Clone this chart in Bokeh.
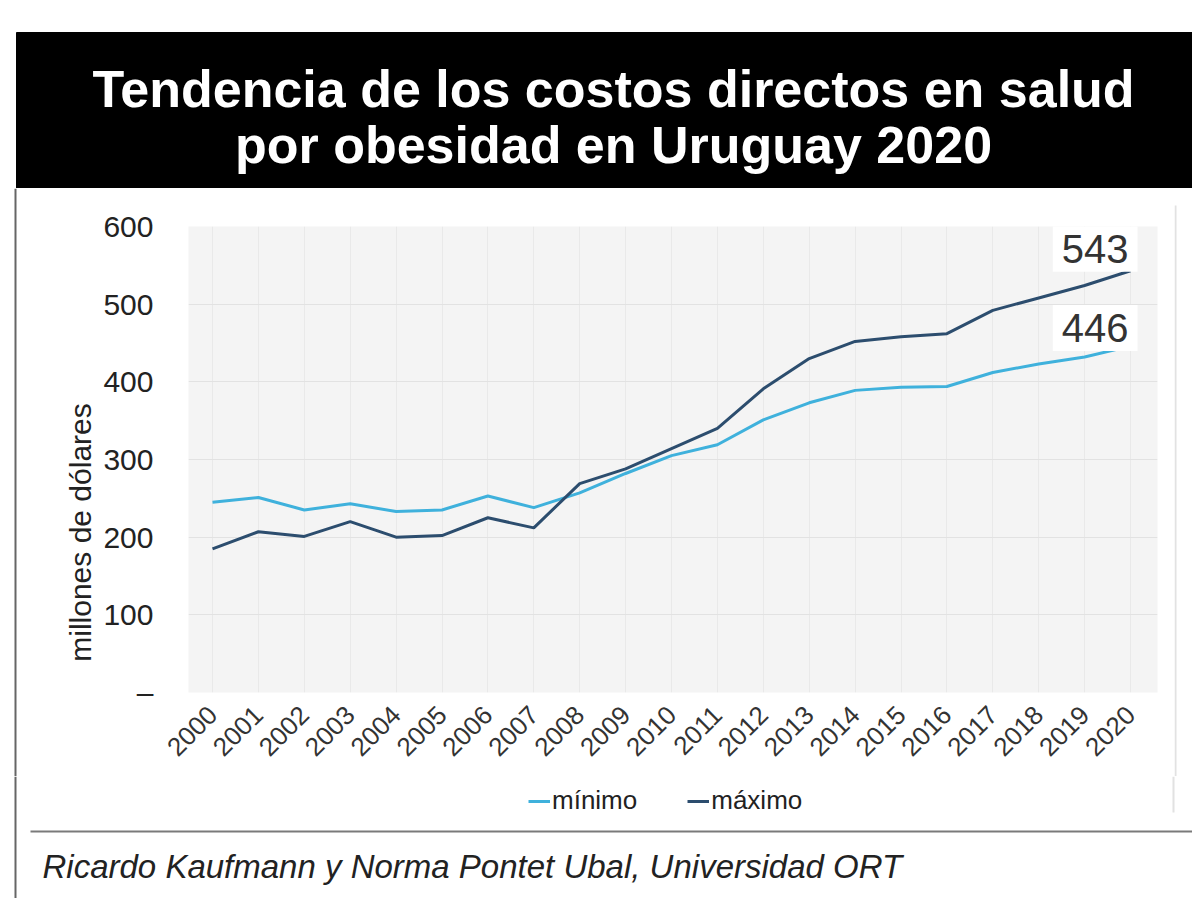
from math import pi
from bokeh.plotting import figure
from bokeh.models import Range1d, Label, Legend, LegendItem, FixedTicker, ColumnDataSource
from bokeh.layouts import column, row
from bokeh.embed import file_html
from bokeh.resources import INLINE

# ---------------- data ----------------
years = list(range(2000, 2021))
minimo = [245, 251, 235, 243, 233, 235, 253, 238, 257, 282, 305, 319,
          351, 373, 389, 393, 394, 412, 423, 432, 446]
maximo = [185, 207, 201, 220, 200, 202, 225, 212, 269, 288, 314, 340,
          391, 430, 452, 458, 462, 492, 508, 524, 543]
series_names = ["mínimo", "máximo"]
ytick_values = [0, 100, 200, 300, 400, 500, 600]
ytick_labels = ["–", "100", "200", "300", "400", "500", "600"]
end_labels = ["543", "446"]
title_lines = ["Tendencia de los costos directos en salud",
               "por obesidad en Uruguay 2020"]
y_label = "millones de dólares"
source_text = "Ricardo Kaufmann y Norma Pontet Ubal, Universidad ORT"

FONT = "Liberation Sans"
LIGHT = "#3fb1dc"
DARK = "#2c4d6e"


def no_align(f):
    if "frame_align" in f.properties():
        f.frame_align = False
    return f


def deco(w, h):
    f = figure(frame_width=w, frame_height=h, x_range=Range1d(0, w),
               y_range=Range1d(h, 0), output_backend="svg",
               toolbar_location=None, min_border=0,
               x_axis_location=None, y_axis_location=None)
    f.grid.visible = False
    f.outline_line_color = None
    f.background_fill_color = "white"
    f.border_fill_color = "white"
    return no_align(f)


# ---------------- title bar (0..188) ----------------
top = deco(1192, 188)
top.quad(left=16, right=1192, top=32, bottom=188, color="black")
for txt, yb in zip(title_lines, [88, 144]):
    top.add_layout(Label(x=613, y=yb, text=txt, text_align="center",
                         text_baseline="alphabetic", text_font=FONT,
                         text_font_style="bold", text_font_size="52px",
                         text_color="white"))

# ---------------- chart row (188..776) ----------------
ROW_H = 588
left = deco(100, ROW_H)
left.segment(x0=15, y0=0, x1=15, y1=ROW_H, line_color="#666666", line_width=2)
left.add_layout(Label(x=80, y=344, text=y_label, angle=pi / 2,
                      text_align="center", text_baseline="middle",
                      text_font=FONT, text_font_size="30px",
                      text_color="#222222"))

right = deco(20, ROW_H)
right.segment(x0=1, y0=17, x1=1, y1=ROW_H, line_color="#e2e2e2", line_width=2)

src = ColumnDataSource(dict(year=years, minimo=minimo, maximo=maximo))
p = figure(frame_width=969, frame_height=466, x_range=Range1d(1999.477, 2020.588),
           y_range=Range1d(0, 600), output_backend="svg", toolbar_location=None,
           min_border_left=86, min_border_right=17, min_border_top=38,
           min_border_bottom=84)
no_align(p)
p.background_fill_color = "#f4f4f4"
p.border_fill_color = "white"
p.outline_line_color = None

p.xaxis.ticker = FixedTicker(ticks=years)
p.xaxis.major_label_orientation = pi / 4
p.xaxis.major_label_text_font = FONT
p.xaxis.major_label_text_font_size = "26px"
p.xaxis.major_label_text_color = "#333333"
p.xaxis.major_label_standoff = 12
p.xaxis.axis_line_color = None
p.xaxis.major_tick_line_color = None
p.xaxis.minor_tick_line_color = None

p.yaxis.ticker = FixedTicker(ticks=ytick_values)
p.yaxis.major_label_overrides = dict(zip(ytick_values, ytick_labels))
p.yaxis.major_label_text_font = FONT
p.yaxis.major_label_text_font_size = "30px"
p.yaxis.major_label_text_color = "#222222"
p.yaxis.major_label_standoff = 29
p.yaxis.axis_line_color = None
p.yaxis.major_tick_line_color = None
p.yaxis.minor_tick_line_color = None

p.xgrid.grid_line_color = "#e9e9e9"
p.ygrid.grid_line_color = "#e2e2e2"

r_min = p.line("year", "minimo", source=src, line_color=LIGHT, line_width=3)
r_max = p.line("year", "maximo", source=src, line_color=DARK, line_width=3)

for txt, yv, yoff in zip(end_labels, [maximo[-1], minimo[-1]], [22, 18]):
    p.add_layout(Label(x=years[-1], y=yv, x_offset=7, y_offset=yoff, text=txt,
                       text_align="right", text_baseline="alphabetic",
                       text_font=FONT, text_font_size="40px",
                       text_color="#333333", background_fill_color="white",
                       padding=9))

# ---------------- legend + source (776..898) ----------------
BOT_H = 122
bottom = deco(1192, BOT_H)
bottom.segment(x0=30, y0=55, x1=1192, y1=55, line_color="#7a7a7a", line_width=2)
bottom.segment(x0=15, y0=0, x1=15, y1=BOT_H, line_color="#666666", line_width=2)
bottom.segment(x0=1173, y0=0, x1=1173, y1=36, line_color="#e2e2e2", line_width=2)
bottom.add_layout(Label(x=42, y=90, text=source_text, text_align="left",
                        text_baseline="alphabetic", text_font=FONT,
                        text_font_style="italic", text_font_size="33px",
                        text_color="#222222"))
# legend proxies (single points, off-frame) carrying the chart's line styles
k_min = bottom.line(x=[years[0]], y=[minimo[0]], line_color=LIGHT, line_width=3)
k_max = bottom.line(x=[years[0]], y=[maximo[0]], line_color=DARK, line_width=3)
legend = Legend(items=[LegendItem(label=series_names[0], renderers=[k_min]),
                       LegendItem(label=series_names[1], renderers=[k_max])],
                orientation="horizontal", location=(528, 82),
                glyph_width=22, glyph_height=20, label_standoff=2, spacing=50,
                padding=0, margin=0, border_line_color=None,
                background_fill_alpha=0,
                label_text_font=FONT, label_text_font_size="26px",
                label_text_color="#222222")
bottom.add_layout(legend)

layout = column(top, row(left, p, right), bottom)
open("out.html", "w").write(file_html(layout, INLINE))
